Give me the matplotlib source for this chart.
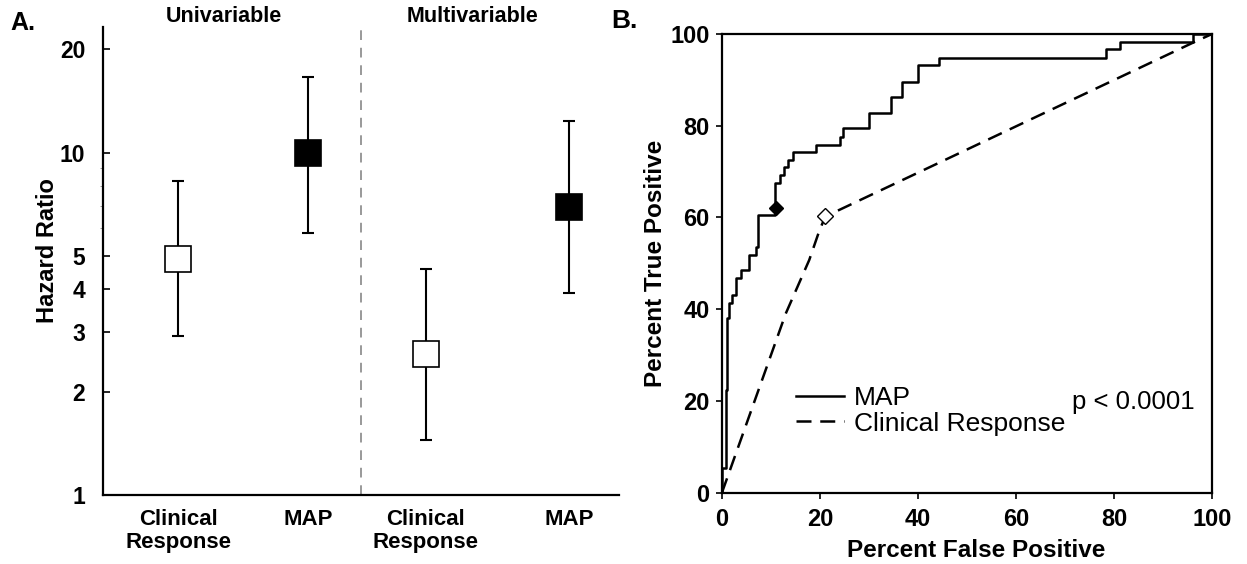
import matplotlib
matplotlib.use("Agg")
import matplotlib.pyplot as plt

plt.rcParams['font.family'] = ['Liberation Sans', 'DejaVu Sans']

# ---- panel A data: hazard ratios with 95% CI
groups = ["Univariable", "Multivariable"]
cat_labels = ["Clinical\nResponse", "MAP", "Clinical\nResponse", "MAP"]
hr = [4.9, 10.0, 2.58, 6.94]
hr_low = [2.92, 5.82, 1.45, 3.90]
hr_high = [8.24, 16.6, 4.58, 12.4]
filled = [False, True, False, True]
hr_ticks = [1, 2, 3, 4, 5, 10, 20]

# ---- panel B data: ROC curves
map_fpr = [0, 0, 0.8, 1.1, 1.5, 2.0, 2.8, 3.8, 5.5, 6.9, 7.4, 10.9, 11.8, 12.7,
           13.4, 14.4, 19.1, 24.0, 24.7, 30.0, 34.5, 36.7, 40.0, 44.2, 78.3,
           81.2, 96.2, 100]
map_tpr = [0, 5.3, 22.4, 38.0, 41.3, 43.0, 46.7, 48.5, 51.8, 53.6, 60.5, 67.4,
           69.2, 71.1, 72.5, 74.3, 75.8, 77.6, 79.4, 82.7, 86.3, 89.6, 93.2,
           94.8, 96.7, 98.3, 100, 100]
cr_fpr = [0, 13.0, 17.8, 19.9, 21.1, 96.5, 100]
cr_tpr = [0, 39.0, 50.7, 57.2, 60.2, 98.3, 100]
map_cut = (11.1, 62.0)
cr_cut = (21.1, 60.2)
roc_ticks = [0, 20, 40, 60, 80, 100]

W, H = 1247, 564
fig = plt.figure(figsize=(W / 100, H / 100), dpi=100)

# ================= panel A =================
ax1 = fig.add_axes([103.3 / W, 1 - 495 / H, 516 / W, 468.3 / H])
xpos = [0.145, 0.397, 0.625, 0.903]
ax1.set_xlim(0, 1)
ax1.set_yscale('log')
ax1.set_ylim(1, 23.3)

for x, m, lo, hi, f in zip(xpos, hr, hr_low, hr_high, filled):
    ax1.errorbar([x], [m], yerr=[[m - lo], [hi - m]], fmt='none', ecolor='black',
                 elinewidth=1.5, capsize=4.5, capthick=1.5, zorder=2)
    ax1.plot([x], [m], 's', ms=19, mfc='black' if f else 'white', mec='black',
             mew=1.2, zorder=3)

ax1.axvline(0.5, color='#999999', lw=1.4, ls=(0, (5, 4)), zorder=1)

ax1.spines['top'].set_visible(False)
ax1.spines['right'].set_visible(False)
ax1.spines['left'].set_linewidth(1.6)
ax1.spines['bottom'].set_linewidth(1.6)

ax1.set_xticks(xpos)
ax1.set_xticklabels(cat_labels, fontsize=16, fontweight='bold', linespacing=1.15)
ax1.tick_params(axis='x', length=0, pad=10)
ax1.set_yticks(hr_ticks)
ax1.set_yticklabels([str(t) for t in hr_ticks], fontsize=16.5, fontweight='bold')
ax1.tick_params(axis='y', which='major', direction='in', length=5, width=1.2, pad=13)
ax1.tick_params(axis='y', which='minor', direction='out', length=2, width=0.6,
                color='#888888')
ax1.yaxis.set_minor_formatter(matplotlib.ticker.NullFormatter())

fig.text(47 / W, 1 - 251 / H, "Hazard Ratio", rotation=90, ha='center', va='center',
         fontsize=17, fontweight='bold')
fig.text(224 / W, 1 - 17 / H, groups[0], ha='center', va='center', fontsize=15.5,
         fontweight='bold')
fig.text(472 / W, 1 - 17 / H, groups[1], ha='center', va='center', fontsize=15.5,
         fontweight='bold')
fig.text(10 / W, 1 - 23 / H, "A.", ha='left', va='center', fontsize=18,
         fontweight='bold')
fig.text(611 / W, 1 - 21 / H, "B.", ha='left', va='center', fontsize=19,
         fontweight='bold')

# ================= panel B =================
ax2 = fig.add_axes([722 / W, 1 - 492.5 / H, 490 / W, 458.5 / H])
ax2.set_xlim(0, 100)
ax2.set_ylim(0, 100)

l1, = ax2.plot(map_fpr, map_tpr, color='black', lw=1.8, drawstyle='steps-post')
l2, = ax2.plot(cr_fpr, cr_tpr, color='black', lw=1.8, ls=(0, (6, 3.5)))
ax2.plot([map_cut[0]], [map_cut[1]], 'D', ms=7.5, mfc='black', mec='black', zorder=4)
ax2.plot([cr_cut[0]], [cr_cut[1]], 'D', ms=8, mfc='white', mec='black', mew=1.0,
         zorder=4)

for s in ax2.spines.values():
    s.set_linewidth(1.6)

ax2.set_xticks(roc_ticks)
ax2.set_yticks(roc_ticks)
ax2.set_xticklabels([str(t) for t in roc_ticks], fontsize=17, fontweight='bold')
ax2.set_yticklabels([str(t) for t in roc_ticks], fontsize=17, fontweight='bold')
ax2.tick_params(direction='out', length=4, width=1.2, pad=5)
ax2.tick_params(axis='x', pad=7)

fig.text(976 / W, 1 - 557 / H, "Percent False Positive", ha='center', va='baseline',
         fontsize=17.5, fontweight='bold')
fig.text(656 / W, 1 - 263 / H, "Percent True Positive", rotation=90, ha='center',
         va='center', fontsize=17.5, fontweight='bold')

ax2.legend([l1, l2], ["MAP", "Clinical Response"], loc='center left',
           bbox_to_anchor=(796 / W, 1 - 411 / H), bbox_transform=fig.transFigure,
           frameon=False, fontsize=19, handlelength=1.8, handletextpad=0.4,
           borderpad=0, borderaxespad=0, labelspacing=0.05)
ax2.text(71.4, 18.2, "p < 0.0001", fontsize=18.5, ha='left', va='baseline')

fig.savefig("out.png", dpi=100)
